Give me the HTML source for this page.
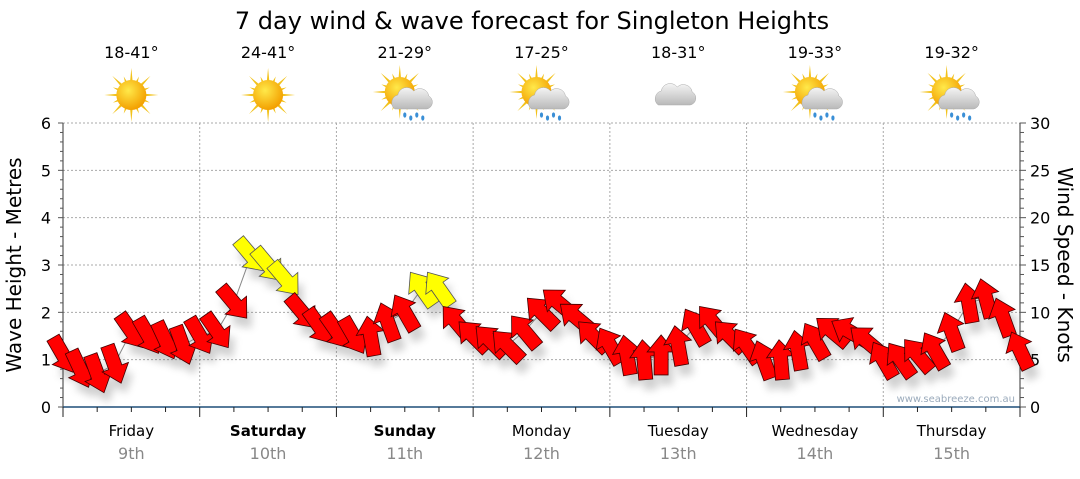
<!DOCTYPE html>
<html><head><meta charset="utf-8"><style>
body{margin:0;background:#fff;font-family:"DejaVu Sans","Liberation Sans",sans-serif}
svg text{font-family:"DejaVu Sans","Liberation Sans",sans-serif}
</style></head><body>
<svg id="c" width="1080" height="475" viewBox="0 0 1080 475">
<defs>
<radialGradient id="sunG" cx="40%" cy="35%" r="65%"><stop offset="0" stop-color="#ffe94a"/><stop offset="1" stop-color="#f3a000"/></radialGradient>
<linearGradient id="cloudG" x1="0" y1="0" x2="0" y2="1"><stop offset="0" stop-color="#f4f4f4"/><stop offset="1" stop-color="#b9b9b9"/></linearGradient>
<filter id="sh" x="-50%" y="-50%" width="200%" height="200%"><feGaussianBlur stdDeviation="4"/></filter>
</defs>
<text x="532" y="29" font-size="24" text-anchor="middle" fill="#000">7 day wind &amp; wave forecast for Singleton Heights</text>
<g id="grid"></g>
<g id="icons"></g>
<g id="axes"></g>
<g id="shadows" filter="url(#sh)" opacity="0.25"></g>
<polyline id="pathline" fill="none" stroke="#888" stroke-width="1"/>
<g id="arrows"></g>
<text x="1015" y="402" font-size="10" text-anchor="end" fill="#9aaabb">www.seabreeze.com.au</text>
<text transform="translate(21,265) rotate(-90)" font-size="20" text-anchor="middle">Wave Height - Metres</text>
<text transform="translate(1058,265) rotate(90)" font-size="20" text-anchor="middle">Wind Speed - Knots</text>
</svg>
<script>
const days=["Friday","Saturday","Sunday","Monday","Tuesday","Wednesday","Thursday"];
const dates=["9th","10th","11th","12th","13th","14th","15th"];
const weekend=[false,true,true,false,false,false,false];
const temps=["18-41°","24-41°","21-29°","17-25°","18-31°","19-33°","19-32°"];
const icons=["sun","sun","sunrain","sunrain","cloud","sunrain","sunrain"];
const leftTicks=[0,1,2,3,4,5,6];
const rightTicks=[0,5,10,15,20,25,30];
// wind speed (knots) every 3 hours, starting Friday 00:00
const windSpeed=[5.5,4,3.5,4.5,8,7.5,7,6.5, 7.5,8,11,16,15,13.5,10,8.5, 8,7.5,7.5,9,10,12.5,12.5,9, 7.5,7,6.5,8,10,11,9.5,7.5, 6.5,5.5,5,5.5,6.5,8.5,9,7.5, 6.5,5,5,6,7,8,8,7, 5,5,5.5,6,8,11,11.5,9.5,6];
// direction the arrow points (screen degrees, 0 = right, 90 = down)
const windDir=[60,65,70,70,55,60,65,70, 60,55,50,50,50,50,50,55, 55,60,-100,-110,-120,-125,-125,-130, -135,-135,-135,-130,-135,-140,-140,-135, -120,-100,-95,-90,-100,-120,-130,-135, -125,-110,-95,-100,-120,-140,-150,-140, -120,-125,-130,-120,-110,-100,-105,-110,-115];

const NS="http://www.w3.org/2000/svg";
const X0=63,X1=1020,Y0=407,Y1=123;
const dayW=(X1-X0)/7;
function xH(h){return X0+h/168*(X1-X0);}
function yM(m){return Y0-m/6*(Y0-Y1);}
function yK(k){return Y0-k/30*(Y0-Y1);}
function mk(tag,attrs,parent){const e=document.createElementNS(NS,tag);for(const k in attrs)e.setAttribute(k,attrs[k]);parent.appendChild(e);return e;}
const grid=document.getElementById('grid'),axes=document.getElementById('axes'),ic=document.getElementById('icons');
leftTicks.forEach(t=>{if(t>0){const l=mk('line',{x1:X0,x2:X1,y1:yM(t),y2:yM(t),stroke:'#aaa','stroke-dasharray':'2,2'},grid);

}});
for(let d=1;d<7;d++){const l=mk('line',{x1:X0+d*dayW,x2:X0+d*dayW,y1:Y1,y2:Y0,stroke:'#aaa','stroke-dasharray':'2,2'},grid);

}
mk('line',{x1:X0,x2:X0,y1:Y1,y2:Y0,stroke:'#333'},axes);
for(let i=0;i<=30;i++){mk('line',{x1:X0-(i%5==0?5:3),x2:X0,y1:yM(i/5),y2:yM(i/5),stroke:'#555'},axes);}
leftTicks.forEach(t=>{const e=mk('text',{x:X0-12,y:yM(t)+6,'font-size':16,'text-anchor':'end'},axes);e.textContent=t;

});
mk('line',{x1:X1,x2:X1,y1:Y1,y2:Y0,stroke:'#333'},axes);
for(let i=0;i<=30;i++){mk('line',{x1:X1,x2:X1+(i%5==0?6:4),y1:yK(i),y2:yK(i),stroke:'#555'},axes);}
rightTicks.forEach(t=>{const e=mk('text',{x:X1+10,y:yK(t)+6,'font-size':16},axes);e.textContent=t;

});
mk('line',{x1:X0,x2:X1,y1:Y0,y2:Y0,stroke:'#1f4e79','stroke-width':1.5},axes);
for(let i=0;i<=28;i++){mk('line',{x1:X0+i*dayW/4,x2:X0+i*dayW/4,y1:Y0,y2:Y0+(i%4==0?10:5),stroke:'#222'},axes);}
days.forEach((d,i)=>{const cx=X0+(i+.5)*dayW;
const t=mk('text',{x:cx,y:436,'font-size':15,'text-anchor':'middle','font-weight':weekend[i]?'bold':'normal'},axes);t.textContent=d;


const t2=mk('text',{x:cx,y:459,'font-size':16,'text-anchor':'middle',fill:'#888'},axes);t2.textContent=dates[i];


const t3=mk('text',{x:cx,y:58,'font-size':16,'text-anchor':'middle'},ic);t3.textContent=temps[i];


const g=mk('g',{transform:`translate(${cx},95)`},ic);


if(icons[i]!=='cloud'){
  let rays='';for(let k=0;k<16;k++){const a=k*Math.PI/8,L=k%2?20:27;rays+=`M${Math.cos(a-0.12)*12},${Math.sin(a-0.12)*12}L${Math.cos(a)*L},${Math.sin(a)*L}L${Math.cos(a+0.12)*12},${Math.sin(a+0.12)*12}Z`;}
  const sx=icons[i]==='sun'?0:-5,sy=icons[i]==='sun'?0:-3;
  mk('path',{d:rays,fill:'#f2c21b',transform:`translate(${sx},${sy})`},g);
  mk('circle',{cx:sx,cy:sy,r:15,fill:'url(#sunG)'},g);
}
if(icons[i]!=='sun'){
  const ox=icons[i]==='cloud'?0:10,oy=icons[i]==='cloud'?0:4;
  mk('path',{d:`M${ox-20},${oy+10}a8,8 0 0 1 3,-14a9,9 0 0 1 16,-4a9,9 0 0 1 15,5a7,7 0 0 1 -2,13z`,fill:'url(#cloudG)',stroke:'#aaa','stroke-width':0.5},g);
  if(icons[i]==='sunrain'){for(let k=0;k<4;k++){mk('ellipse',{cx:ox-10+k*6,cy:oy+16+(k%2)*3,rx:1.6,ry:2.6,fill:'#3a8fd6'},g);}}
}
});
const arrowsG=document.getElementById('arrows'),shG=document.getElementById('shadows');
const shape="M-20,-7 L3,-7 L3,-14 L20,0 L3,14 L3,7 L-20,7 Z";
let pts=[];
windSpeed.forEach((s,i)=>{
  const x=xH(i*3),y=yK(s),a=windDir[i];pts.push(x+','+y);
  const sh=mk('path',{d:shape,transform:`translate(${x+5},${y+10}) rotate(${a})`,fill:'#444'},shG);
  
  
  const p=mk('path',{d:shape,transform:`translate(${x},${y}) rotate(${a})`,fill:s>=12?'#ffff00':'#ff0000',stroke:s>=12?'#555':'#400','stroke-width':0.8},arrowsG);
  
  
});
document.getElementById('pathline').setAttribute('points',pts.join(' '));
</script>
</body></html>
